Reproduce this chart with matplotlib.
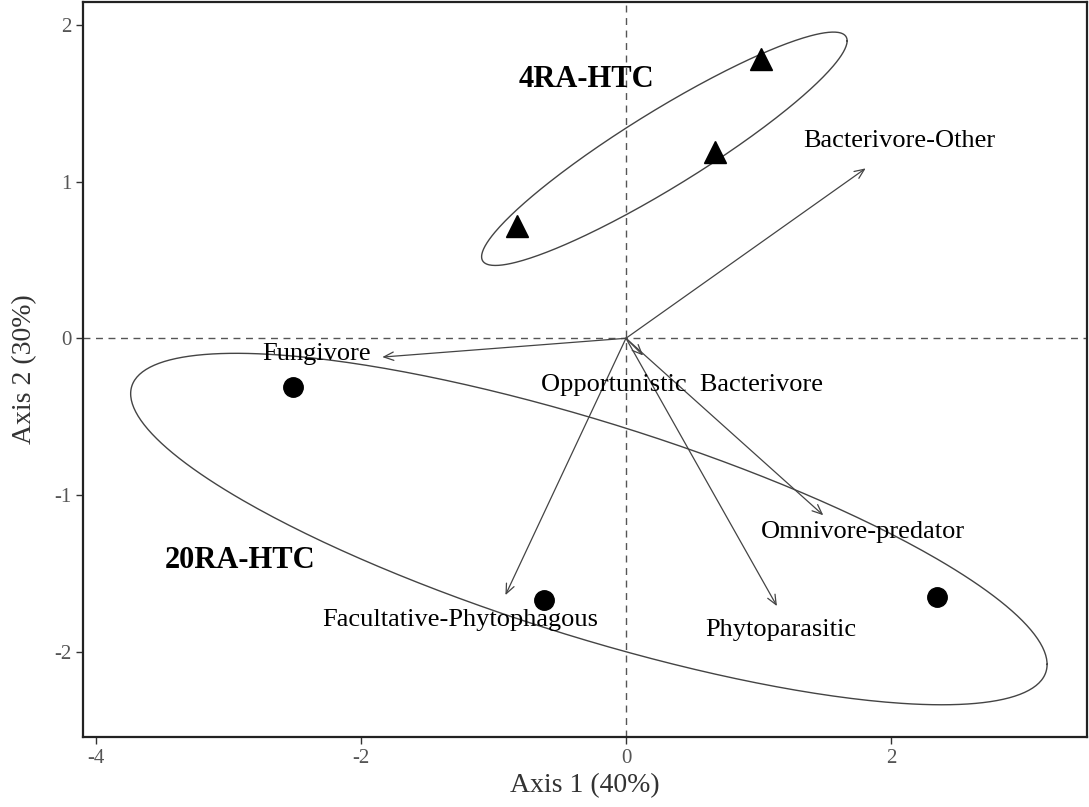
import numpy as np
import matplotlib
matplotlib.use('Agg')
import matplotlib.pyplot as plt

plt.rcParams['font.family'] = ['Liberation Serif', 'DejaVu Serif']
plt.rcParams['axes.unicode_minus'] = False

# site scores
tri_x = [1.02, 0.67, -0.825]
tri_y = [1.785, 1.19, 0.715]
circ_x = [-2.515, -0.62, 2.345]
circ_y = [-0.31, -1.67, -1.65]

# species / trophic group vectors
vec_names = ['Bacterivore-Other', 'Fungivore', 'Opportunistic  Bacterivore',
             'Omnivore-predator', 'Phytoparasitic', 'Facultative-Phytophagous']
vec_x = [1.81, -1.84, 0.13, 1.49, 1.14, -0.91]
vec_y = [1.085, -0.12, -0.11, -1.13, -1.71, -1.64]
lab_x = [1.34, -2.75, -0.64, 1.02, 0.60, -2.29]
lab_y = [1.26, -0.10, -0.30, -1.24, -1.86, -1.80]

# group ellipses: centre, x spread, y spread, correlation
grp_names = ['4RA-HTC', '20RA-HTC']
grp_cx = [0.29, -0.28]
grp_cy = [1.21, -1.218]
grp_sx = [1.38, 3.46]
grp_sy = [0.745, 1.122]
grp_r = [0.925, -0.77]
grp_lab_x = [-0.81, -3.48]
grp_lab_y = [1.65, -1.42]

fig = plt.figure(figsize=(10.89, 8.07), dpi=100)
ax = fig.add_axes([0.0762, 0.0867, 0.9218, 0.9108])

ax.axhline(0, color='#555555', ls=(0, (5, 4)), lw=1.0, zorder=1)
ax.axvline(0, color='#555555', ls=(0, (5, 4)), lw=1.0, zorder=1)

t = np.linspace(0, 2 * np.pi, 400)
for i in range(len(grp_names)):
    ex = grp_cx[i] + grp_sx[i] * np.cos(t)
    ey = grp_cy[i] + grp_sy[i] * (grp_r[i] * np.cos(t) + np.sqrt(1 - grp_r[i] ** 2) * np.sin(t))
    ax.plot(ex, ey, color='#444444', lw=1.0, zorder=2)
    ax.text(grp_lab_x[i], grp_lab_y[i], grp_names[i], fontsize=22, fontweight='bold',
            ha='left', va='center', zorder=5)

for i in range(len(vec_names)):
    ax.annotate('', xy=(vec_x[i], vec_y[i]), xytext=(0, 0),
                arrowprops=dict(arrowstyle='->,head_length=0.7,head_width=0.3',
                                color='#444444', lw=0.9, shrinkA=0, shrinkB=0),
                zorder=3)
    ax.text(lab_x[i], lab_y[i], vec_names[i], fontsize=19, ha='left', va='center', zorder=5)

ax.plot(tri_x, tri_y, '^', color='black', markersize=16, ls='none', zorder=4)
ax.plot(circ_x, circ_y, 'o', color='black', markersize=14, ls='none', zorder=4)

ax.set_xlim(-4.1, 3.48)
ax.set_ylim(-2.546, 2.147)
ax.set_xticks([-4, -2, 0, 2])
ax.set_yticks([-2, -1, 0, 1, 2])
ax.tick_params(labelsize=15, labelcolor='#555555', length=5, width=1, color='#333333')
for s in ax.spines.values():
    s.set_linewidth(1.6)
    s.set_color('#222222')

ax.set_xlabel('Axis 1 (40%)', fontsize=20, color='#333333', labelpad=4)
ax.set_ylabel('Axis 2 (30%)', fontsize=20, color='#333333', labelpad=12)

fig.savefig('out.png', dpi=100)
